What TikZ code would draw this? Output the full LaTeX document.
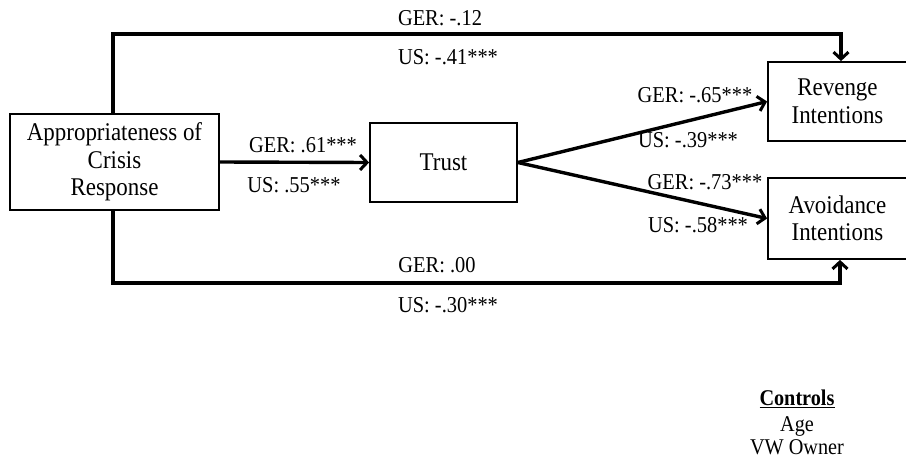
\documentclass[tikz,border=0pt]{standalone}
\usepackage{fontspec}
\setmainfont{Liberation Serif}[FakeStretch=0.9]
\usetikzlibrary{arrows.meta}
\begin{document}
\begin{tikzpicture}[x=1pt,y=-1pt,
  boxnode/.style={draw=black,line width=1.8pt,inner sep=0pt,align=center,
    font=\fontsize{25.5}{27.5}\selectfont},
  lab/.style={inner sep=0pt,font=\fontsize{22.7}{24}\selectfont},
  ctl/.style={inner sep=0pt,font=\fontsize{22.5}{24}\selectfont},
  arr/.style={line width=3.4pt,-{Straight Barb[length=7pt,width=15pt,line width=3pt]}},
  ]
\useasboundingbox (0,0) rectangle (906,458);
% boxes
\node[boxnode,minimum width=209pt,minimum height=96pt] (app) at (114.5,162) {Appropriateness of\\Crisis\\Response};
\node[boxnode,minimum width=147pt,minimum height=79pt] (trust) at (443.5,162.5) {Trust};
\node[boxnode,minimum width=139pt,minimum height=79pt] (rev) at (837.5,101.5) {Revenge\\Intentions};
\node[boxnode,minimum width=139pt,minimum height=81pt] (avo) at (837.5,218.5) {Avoidance\\Intentions};
% corner coordinates
\coordinate (tl) at (113,34);
\coordinate (tr) at (841,34);
\coordinate (bl) at (113,283);
\coordinate (br) at (840,283);
% connectors
\draw[arr] (app.north -| tl) -- (tl) -- (tr) -- (tr |- rev.north);
\draw[arr] (app.south -| bl) -- (bl) -- (br) -- (br |- avo.south);
\draw[arr] (app.east) -- (trust.west);
\draw[arr] (trust.east) -- (rev.west);
\draw[arr] (trust.east) -- (avo.west);
% labels
\node[lab] (l1) at (440,18) {GER: -.12};
\node[lab] (l2) at (448,57) {US: -.41***};
\node[lab] (l3) at (303,145) {GER: .61***};
\node[lab] (l4) at (294,185) {US: .55***};
\node[lab] (l5) at (695,95) {GER: -.65***};
\node[lab] (l6) at (688,140) {US: -.39***};
\node[lab] (l7) at (705,182) {GER: -.73***};
\node[lab] (l8) at (698,225) {US: -.58***};
\node[lab] (l9) at (437,265) {GER: .00};
\node[lab] (l10) at (448,305) {US: -.30***};
% controls
\node[ctl] (c1) at (797,399) {\underline{\textbf{Controls}}};
\node[ctl] (c2) at (797,426) {Age};
\node[ctl] (c3) at (797,447) {VW Owner};
\end{tikzpicture}
\end{document}
